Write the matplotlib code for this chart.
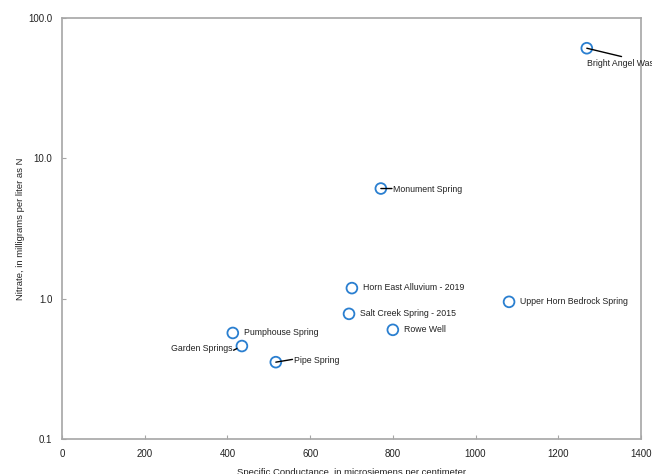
"""Nitrate versus specific conductance for sampled springs and wells."""

import matplotlib

matplotlib.use("Agg")

import matplotlib.pyplot as plt
from matplotlib.ticker import FixedLocator, FuncFormatter, NullLocator

plt.rcParams["font.family"] = ["Liberation Sans Narrow", "Liberation Sans", "DejaVu Sans"]

sites = [
    "Bright Angel Wash",
    "Monument Spring",
    "Horn East Alluvium - 2019",
    "Salt Creek Spring - 2015",
    "Rowe Well",
    "Upper Horn Bedrock Spring",
    "Pumphouse Spring",
    "Garden Springs",
    "Pipe Spring",
]
conductance = [1269, 771, 701, 694, 800, 1081, 413, 435, 517]
nitrate = [61.0, 6.1, 1.19, 0.78, 0.60, 0.95, 0.57, 0.46, 0.353]

# label offsets in points
offsets = [(0, -11), (9, -0.5), (8, 0.5), (8, 0), (8, 0.5), (8, 0), (8, 0), (-7, -2), (13, 1)]
aligns = ["left", "left", "left", "left", "left", "left", "left", "right", "left"]

AXIS_GRAY = "#a6a6a6"
MARKER_BLUE = "#2a7fd0"
TEXT = "#222222"
FS = 6.3

fig = plt.figure(figsize=(6.52, 4.74), dpi=100)
ax = fig.add_axes([0.0951, 0.0738, 0.888, 0.888])

ax.scatter(conductance, nitrate, s=60, facecolors="none", edgecolors=MARKER_BLUE,
           linewidths=1.3, zorder=3)

for name, x, y, off, ha in zip(sites, conductance, nitrate, offsets, aligns):
    ax.annotate(name, (x, y), xytext=off, textcoords="offset points",
                ha=ha, va="center", fontsize=FS, color=TEXT,
                annotation_clip=False)

# leader lines from each circle out to its label
line_style = dict(arrowstyle="-", color="black", lw=1.0, shrinkA=0, shrinkB=0)
ax.annotate("", (1269, 61.0), xytext=(25, -6), textcoords="offset points",
            arrowprops=line_style)
ax.annotate("", (771, 6.1), xytext=(8, 0), textcoords="offset points",
            arrowprops=line_style)
ax.annotate("", (435, 0.46), xytext=(-6, -3), textcoords="offset points",
            arrowprops=dict(line_style, shrinkB=4))
ax.annotate("", (517, 0.353), xytext=(12, 2), textcoords="offset points",
            arrowprops=line_style)

ax.set_xlim(0, 1400)
ax.set_yscale("log")
ax.set_ylim(0.1, 100)
ax.xaxis.set_major_locator(FixedLocator(range(0, 1401, 200)))
ax.yaxis.set_major_locator(FixedLocator([0.1, 1, 10, 100]))
ax.yaxis.set_minor_locator(NullLocator())
ax.yaxis.set_major_formatter(FuncFormatter(lambda v, _: f"{v:.1f}"))

for spine in ax.spines.values():
    spine.set_color(AXIS_GRAY)
    spine.set_linewidth(1.2)

ax.tick_params(direction="in", length=3, width=0.8, color=AXIS_GRAY,
               labelsize=7, labelcolor=TEXT, pad=7)

ax.set_xlabel("Specific Conductance, in microsiemens per centimeter",
              fontsize=6.8, color=TEXT, labelpad=7)
ax.set_ylabel("Nitrate, in milligrams per liter as N",
              fontsize=6.8, color=TEXT, labelpad=2)

fig.savefig("out.png", dpi=100)
plt.close(fig)
